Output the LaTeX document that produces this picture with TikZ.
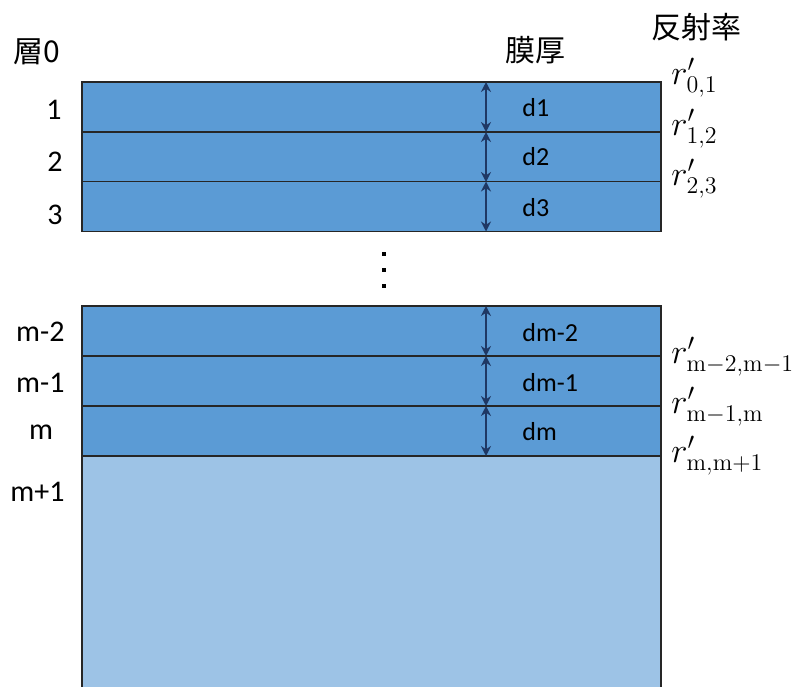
\documentclass[tikz,border=0pt]{standalone}
\usepackage[no-math]{fontspec}
\setmainfont{Carlito}
\newfontfamily\jp{Noto Sans CJK JP}
\usetikzlibrary{arrows.meta}
\definecolor{layerblue}{HTML}{5B9BD5}
\definecolor{subblue}{HTML}{9DC3E6}
\definecolor{navy}{HTML}{1F3864}
\begin{document}
\begin{tikzpicture}[x=0.5pt,y=-0.5pt,
  layer/.style={draw=black!85, line width=0.9pt, fill=layerblue, minimum width=289.5pt, minimum height=25pt, inner sep=0pt, outer sep=0pt},
  substrate/.style={layer, fill=subblue, minimum height=122pt},
  lbl/.style={font=\fontsize{15}{18}\selectfont, inner sep=0pt, anchor=east},
  head/.style={font=\jp\fontsize{15}{18}\selectfont, inner sep=0pt},
  dlbl/.style={font=\fontsize{13}{16}\selectfont, inner sep=0pt, anchor=west},
  rlbl/.style={font=\fontsize{16.5}{19}\selectfont, inner sep=0pt, anchor=west},
  dimarr/.style={navy, line width=0.8pt, {Stealth[length=5pt,width=5pt]}-{Stealth[length=5pt,width=5pt]}},
  dot/.style={fill=black}]
\clip (0,0) rectangle (792,686);
% substrate and layers
\node[substrate] (S) at (371.5,578) {};
\node[layer] (L1) at (371.5,107) {};
\node[layer] (L2) at (371.5,157) {};
\node[layer] (L3) at (371.5,206.5) {};
\node[layer] (Lm2) at (371.5,331) {};
\node[layer] (Lm1) at (371.5,381) {};
\node[layer] (Lm) at (371.5,431) {};
% dots
\foreach \yy in {254,270,286} \fill[dot] (382,\yy-2) rectangle (386,\yy+2);
% thickness arrows
\coordinate (ax) at (486,0);
\foreach \n in {L1,L2,L3,Lm2,Lm1,Lm}
  \draw[dimarr] (\n.north -| ax) -- (\n.south -| ax);
% headings
\node[head] (h0) at (37,52) {層0};
\node[head] (hd) at (535,50) {膜厚};
\node[head] (hr) at (696,27) {反射率};
% layer labels
\node[lbl] (n1) at (62,110) {1};
\node[lbl] (n2) at (63,162) {2};
\node[lbl] (n3) at (63,215) {3};
\node[lbl] (nm2) at (65,332) {m-2};
\node[lbl] (nm1) at (65,383) {m-1};
\node[lbl, anchor=center] (nm) at (41,432) {m};
\node[lbl] (nm+1) at (65,492) {m+1};
% thickness labels
\node[dlbl] (d1) at (522,108) {d1};
\node[dlbl] (d2) at (522,157) {d2};
\node[dlbl] (d3) at (522,208) {d3};
\node[dlbl] (dm2) at (522,333) {dm-2};
\node[dlbl] (dm1) at (522,383) {dm-1};
\node[dlbl] (dm) at (522,432) {dm};
% reflectance labels
\node[rlbl] (r01) at (671,78) {$r'_{0,1}$};
\node[rlbl] (r12) at (671,129) {$r'_{1,2}$};
\node[rlbl] (r23) at (671,179) {$r'_{2,3}$};
\node[rlbl] (rm2) at (671,357) {$r'_{\mathrm{m}-2,\mathrm{m}-1}$};
\node[rlbl] (rm1) at (671,407) {$r'_{\mathrm{m}-1,\mathrm{m}}$};
\node[rlbl] (rm) at (671,456) {$r'_{\mathrm{m},\mathrm{m}+1}$};
\end{tikzpicture}
\end{document}
